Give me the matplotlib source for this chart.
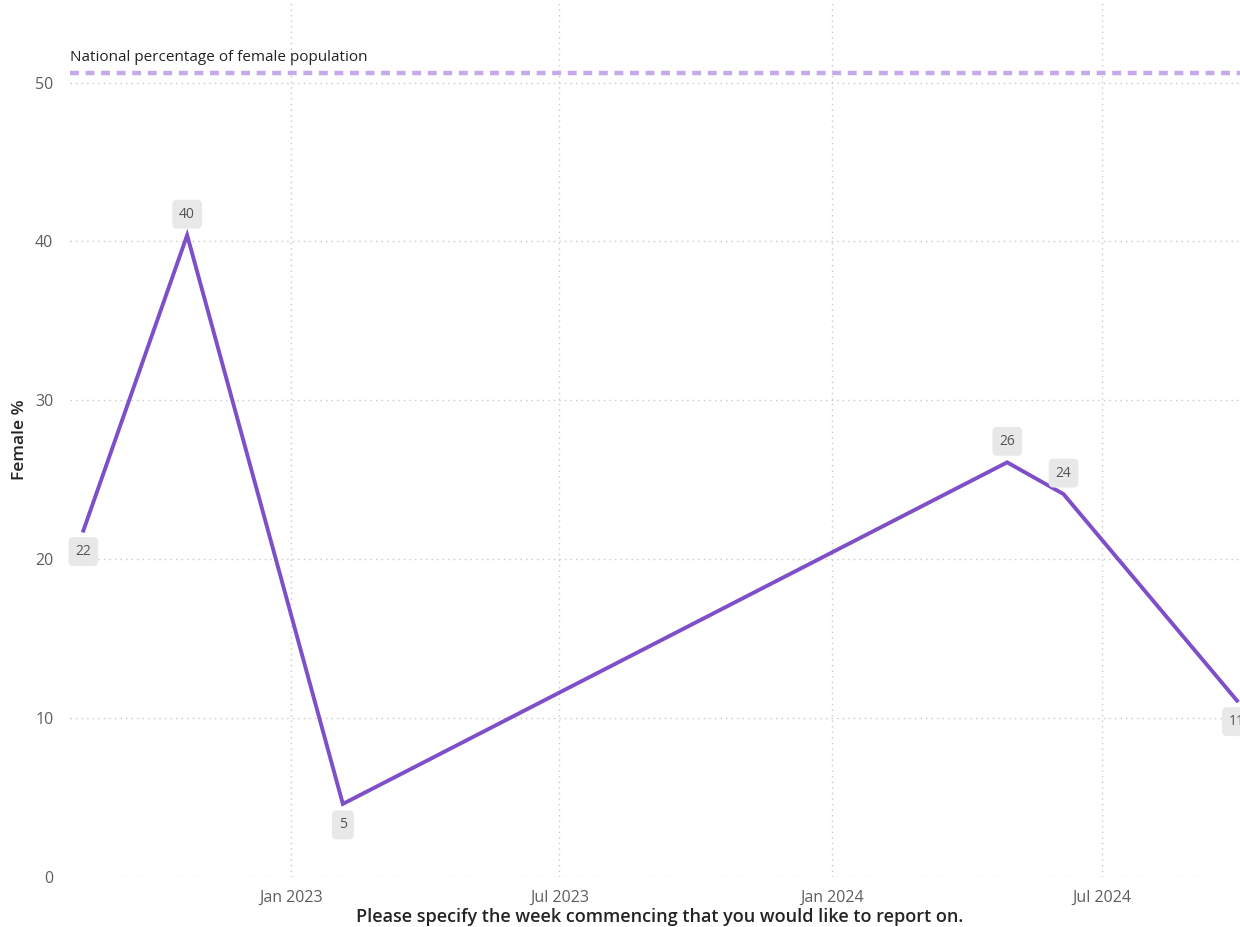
import matplotlib
matplotlib.use("Agg")
import matplotlib.pyplot as plt
import pandas as pd

# Data
week_dates = pd.to_datetime(["2022-08-14", "2022-10-23", "2023-02-05",
                             "2024-04-28", "2024-06-05", "2024-09-30"])
female_pct = [21.8, 40.4, 4.6, 26.1, 24.1, 11.1]
label_below = [True, False, True, False, False, True]
national_pct = 50.6
tick_dates = pd.to_datetime(["2023-01-01", "2023-07-01", "2024-01-01", "2024-07-01"])
tick_labels = ["Jan 2023", "Jul 2023", "Jan 2024", "Jul 2024"]

plt.rcParams["font.family"] = ["Open Sans", "DejaVu Sans"]

W, H = 1240, 927
fig = plt.figure(figsize=(W / 100, H / 100), dpi=100)
ax = fig.add_axes([70 / W, 50 / H, 1 - 70 / W, 1 - 50 / H])

# ── reference line ───────────────────────────────────────────
ax.axhline(national_pct, color="#C5A9EB", ls=(0, (2, 1.5)), lw=3.2, zorder=2)
ax.annotate("National percentage of female population", (0, national_pct),
            xycoords=ax.get_yaxis_transform(), xytext=(0, 16),
            textcoords="offset pixels", fontsize=11, color="#222222",
            ha="left", va="center")

# ── series ───────────────────────────────────────────────────
ax.plot(week_dates, female_pct, color="#7E4FC8", lw=2.8, zorder=3,
        solid_joinstyle="miter")

for d, v, below in zip(week_dates, female_pct, label_below):
    off = -21 if below else 21
    ax.annotate(f"{v:.0f}", (d, v), xytext=(0, off), textcoords="offset pixels",
                ha="center", va="center", fontsize=10, color="#555555",
                bbox=dict(boxstyle="round,pad=0.5,rounding_size=0.35",
                          fc="#E8E8E8", ec="none"), zorder=4,
                annotation_clip=False)

# ── axes styling ─────────────────────────────────────────────
ax.set_xlim(pd.Timestamp("2022-08-05"), pd.Timestamp("2024-10-02"))
ax.set_ylim(0, 55.2)
ax.set_yticks([0, 10, 20, 30, 40, 50])
ax.set_xticks(tick_dates)
ax.set_xticklabels(tick_labels)
ax.minorticks_off()
ax.tick_params(axis="both", length=0, labelsize=11.5, colors="#605E5C")
ax.tick_params(axis="x", pad=9)
ax.tick_params(axis="y", pad=12)
ax.grid(True, color="#C8C8C8", ls=(0, (1, 3)), lw=1)
for s in ax.spines.values():
    s.set_visible(False)

fig.text(20 / W, 1 - 440 / H, "Female %", rotation=90, ha="center", va="center",
         fontsize=12.5, color="#252423", fontweight="semibold")
fig.text(660 / W, 1 - 917 / H,
         "Please specify the week commencing that you would like to report on.",
         ha="center", va="center", fontsize=13, color="#252423",
         fontweight="semibold")

fig.savefig("out.png", dpi=100)
